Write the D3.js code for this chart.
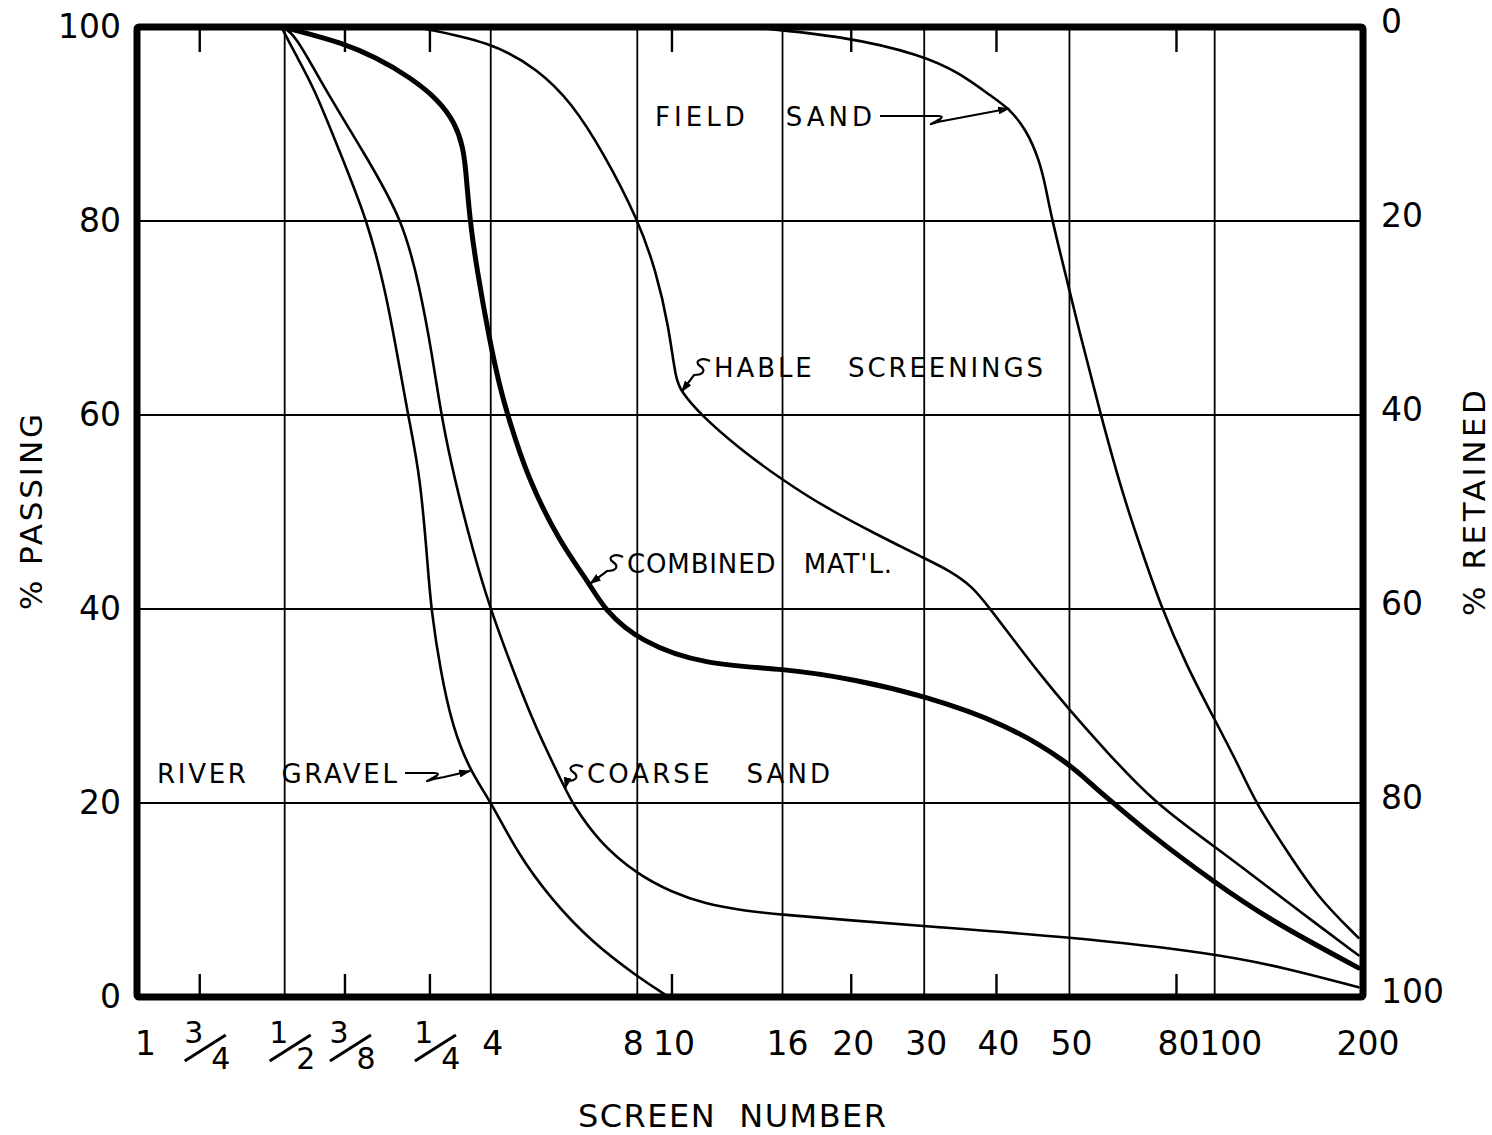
<!DOCTYPE html>
<html lang="en">
<head>
    <meta charset="utf-8">
    <title>Screen Analysis: % Passing</title>
    <script src="https://d3js.org/d3.v7.min.js"></script>
    <style>
    body {
        margin: 0;
        background: #fff;
    }
    svg {
        display: block;
        font-family: "DejaVu Sans", sans-serif;
    }
    .note {
        font-size: 26px;
        white-space: pre;
    }
    </style>
</head>
<body>
<script>

// screen openings in mm, with the label printed under each
var screenSizes = [25.4, 19.05, 12.7, 9.525, 6.35, 4.75, 2.36, 2.0, 1.18, 0.85, 0.6, 0.425, 0.3, 0.18, 0.15, 0.075];
var screenLabels = ["1", "3/4", "1/2", "3/8", "1/4", "4", "8", "10", "16", "20", "30", "40", "50", "80", "100", "200"];
var gridScreens = [12.7, 4.75, 2.36, 1.18, 0.6, 0.3, 0.15];
var tickScreens = [19.05, 9.525, 6.35, 2.0, 0.85, 0.425, 0.18];
var pctTicks = [0, 20, 40, 60, 80, 100];

// [opening mm, % passing]
var riverGravel = [[12.9,100],[12.1,97.3],[11.05,93.8],[9.74,87.0],[8.57,80.1],[7.88,73.2],[7.43,66.4],[7.04,59.8],[6.64,53.6],[6.40,43.7],[6.31,40.0],[6.05,33.8],[5.70,27.8],[5.24,23.3],[4.73,20.0],[4.18,14.8],[3.55,10.0],[2.94,5.7],[2.36,2.1],[2.03,0]];
var coarseSand = [[12.9,100],[12.12,99.4],[10.54,93.8],[8.69,87.0],[7.22,80.1],[6.67,73.2],[6.29,66.4],[6.01,59.8],[5.66,53.6],[5.16,45.8],[4.76,40.0],[4.28,33.8],[3.84,27.8],[3.33,21.5],[3.22,20.0],[2.84,16.0],[2.355,12.6],[2.0,10.8],[1.71,9.6],[1.42,8.9],[1.19,8.5],[0.85,7.9],[0.6,7.3],[0.3,6.2],[0.15,4.5],[0.107,3.0],[0.0755,1.0]];
var combinedMatl = [[12.8,100],[11.72,99.5],[9.71,98.4],[8.23,96.9],[6.97,94.8],[6.10,92.5],[5.63,90.1],[5.42,87.6],[5.35,85.3],[5.25,80.1],[5.07,74.9],[4.79,68.0],[4.55,62.9],[4.37,59.8],[3.99,53.6],[3.42,46.9],[2.96,42.6],[2.77,40.0],[2.33,36.6],[1.70,34.2],[1.18,33.9],[0.827,32.7],[0.606,31.1],[0.407,28.2],[0.3,24.1],[0.266,21.6],[0.243,20.0],[0.201,16.5],[0.15,11.8],[0.115,7.9],[0.0755,3.0]];
var hableScreenings = [[6.8,100],[4.75,98.5],[3.78,95.6],[3.23,92.2],[2.77,87.0],[2.35,80.1],[2.16,74.9],[2.03,69.1],[1.965,63.6],[1.91,62.4],[1.76,60.2],[1.44,56.4],[1.18,53.3],[0.965,50.5],[0.761,47.8],[0.604,45.3],[0.533,44.0],[0.476,42.3],[0.441,40.2],[0.387,36.5],[0.347,33.4],[0.3,29.6],[0.2535,25.5],[0.201,20.1],[0.15,15.5],[0.124,12.4],[0.0992,8.7],[0.0755,4.3]];
var fieldSand = [[1.38,100],[0.867,99.0],[0.606,97.1],[0.508,95.3],[0.434,92.8],[0.400,91.6],[0.3685,89.4],[0.3465,86.3],[0.336,83.5],[0.327,80.4],[0.3046,74.2],[0.2877,69.1],[0.2594,60.3],[0.2317,51.5],[0.2127,46.1],[0.1944,40.4],[0.171,34.0],[0.15,28.6],[0.1333,23.7],[0.1236,20.1],[0.1068,15.2],[0.0919,10.3],[0.0755,6.1]];

var seriesNames = ["FIELD   SAND", "HABLE   SCREENINGS", "COMBINED   MAT'L.", "RIVER   GRAVEL", "COARSE   SAND"];

var width = 1492,
    height = 1135;
var plotLeft = 137, plotRight = 1363, plotTop = 27, plotBottom = 997;

var x = d3.scaleLog().domain([25.7, 0.0739]).range([plotLeft, plotRight]);
var y = d3.scaleLinear().domain([0, 100]).range([plotBottom, plotTop]);
var yRet = d3.scaleLinear().domain([100, 0]).range([plotBottom, plotTop]);

var svg = d3.select("body").append("svg")
    .attr("width", width)
    .attr("height", height);

svg.append("rect").attr("width", width).attr("height", height).attr("fill", "#fff");

var defs = svg.append("defs");
defs.append("marker")
    .attr("id", "arrow")
    .attr("viewBox", "0 0 12 8")
    .attr("refX", 11).attr("refY", 4)
    .attr("markerWidth", 12).attr("markerHeight", 8)
    .attr("markerUnits", "userSpaceOnUse")
    .attr("orient", "auto")
  .append("path")
    .attr("d", "M0,0 L12,4 L0,8 Z")
    .attr("fill", "#000");

// grid
svg.selectAll(".hgrid").data([20, 40, 60, 80]).enter().append("line")
    .attr("x1", plotLeft).attr("x2", plotRight)
    .attr("y1", function(d) { return y(d); })
    .attr("y2", function(d) { return y(d); })
    .attr("stroke", "#000").attr("stroke-width", 1.8);

svg.selectAll(".vgrid").data(gridScreens).enter().append("line")
    .attr("x1", function(d) { return x(d); })
    .attr("x2", function(d) { return x(d); })
    .attr("y1", plotTop).attr("y2", plotBottom)
    .attr("stroke", "#000").attr("stroke-width", 1.8);

// short ticks top and bottom
tickScreens.forEach(function(d) {
    svg.append("line").attr("x1", x(d)).attr("x2", x(d)).attr("y1", plotTop).attr("y2", plotTop + 25)
        .attr("stroke", "#000").attr("stroke-width", 2.4);
    svg.append("line").attr("x1", x(d)).attr("x2", x(d)).attr("y1", plotBottom).attr("y2", plotBottom - 23)
        .attr("stroke", "#000").attr("stroke-width", 2.4);
});

// curves
var series = [
    { values: fieldSand, w: 2.6 },
    { values: hableScreenings, w: 2.6 },
    { values: combinedMatl, w: 5 },
    { values: riverGravel, w: 2.6 },
    { values: coarseSand, w: 2.6 }
];

var line = d3.line()
    .x(function(d) { return x(d[0]); })
    .y(function(d) { return y(d[1]); })
    .curve(d3.curveBasis);

svg.selectAll(".curve").data(series).enter().append("path")
    .attr("class", "curve")
    .attr("d", function(d) { return line(d.values); })
    .attr("fill", "none")
    .attr("stroke", "#000")
    .attr("stroke-width", function(d) { return d.w; })
    .attr("stroke-linejoin", "round")
    .attr("stroke-linecap", "round");

// frame
svg.append("rect")
    .attr("x", plotLeft).attr("y", plotTop)
    .attr("width", plotRight - plotLeft).attr("height", plotBottom - plotTop)
    .attr("fill", "none").attr("stroke", "#000").attr("stroke-width", 7)
    .attr("rx", 2);

// left axis (% passing)
var leftAxis = svg.append("g")
    .attr("transform", "translate(121,0)")
    .call(d3.axisLeft(y).tickValues(pctTicks).tickSize(0).tickPadding(0));
leftAxis.select(".domain").remove();
leftAxis.selectAll("text")
    .attr("font-family", "DejaVu Sans")
    .attr("font-size", 33)
    .attr("fill", "#000");

// right axis (% retained)
var rightAxis = svg.append("g")
    .attr("transform", "translate(1381,-5)")
    .call(d3.axisRight(yRet).tickValues(pctTicks).tickSize(0).tickPadding(0));
rightAxis.select(".domain").remove();
rightAxis.selectAll("text")
    .attr("font-family", "DejaVu Sans")
    .attr("font-size", 33)
    .attr("fill", "#000");

// bottom labels, fractions stacked
var labelNudge = { "8": -6, "100": 14, "200": 6, "1": 4, "16": 3 };
var xLabels = svg.append("g").attr("font-size", 33).attr("fill", "#000");
screenSizes.forEach(function(d, i) {
    var lab = screenLabels[i];
    if (lab.indexOf("/") > -1) {
        var parts = lab.split("/");
        var cx = x(d) + 7;
        xLabels.append("text").attr("x", cx - 13).attr("y", 1032)
            .attr("text-anchor", "middle").attr("dominant-baseline", "central")
            .attr("font-size", 30).text(parts[0]);
        xLabels.append("text").attr("x", cx + 14).attr("y", 1058)
            .attr("text-anchor", "middle").attr("dominant-baseline", "central")
            .attr("font-size", 30).text(parts[1]);
        xLabels.append("line").attr("x1", cx - 22).attr("y1", 1061)
            .attr("x2", cx + 19).attr("y2", 1035)
            .attr("stroke", "#000").attr("stroke-width", 3);
    } else {
        xLabels.append("text")
            .attr("x", x(d) + 2 + (labelNudge[lab] || 0))
            .attr("y", 1043)
            .attr("text-anchor", "middle").attr("dominant-baseline", "central")
            .text(lab);
    }
});

// axis titles
svg.append("text")
    .attr("x", 732).attr("y", 1127)
    .attr("text-anchor", "middle")
    .attr("font-size", 32)
    .attr("textLength", 308)
    .attr("style", "white-space:pre")
    .text("SCREEN  NUMBER");

svg.append("text")
    .attr("transform", "translate(42,512) rotate(-90)")
    .attr("text-anchor", "middle")
    .attr("font-size", 31)
    .attr("textLength", 196)
    .attr("style", "white-space:pre")
    .text("% PASSING");

svg.append("text")
    .attr("transform", "translate(1485,503) rotate(-90)")
    .attr("text-anchor", "middle")
    .attr("font-size", 31)
    .attr("textLength", 226)
    .attr("style", "white-space:pre")
    .text("% RETAINED");

// curve labels with hand-drawn style leaders
var notes = [
    { text: seriesNames[0], x: 655, y: 126, len: 217, side: "right", target: fieldSand[5] },
    { text: seriesNames[1], x: 714, y: 377, len: 329, side: "left", target: hableScreenings[9] },
    { text: seriesNames[2], x: 627, y: 573, len: 265, side: "left", target: combinedMatl[16] },
    { text: seriesNames[3], x: 157, y: 783, len: 240, side: "right", target: riverGravel[13] },
    { text: seriesNames[4], x: 587, y: 783, len: 243, side: "left", target: coarseSand[13] }
];

notes.forEach(function(n) {
    svg.append("text")
        .attr("class", "note")
        .attr("x", n.x).attr("y", n.y)
        .attr("textLength", n.len)
        .attr("lengthAdjust", "spacing")
        .text(n.text);

    var tx = x(n.target[0]), ty = y(n.target[1]);
    var p;
    if (n.side === "right") {
        var sx = n.x + n.len + 8, my = n.y - 10;
        var hx = sx + (tx - sx) * 0.45;
        p = "M" + sx + "," + my + " L" + hx + "," + my +
            " C" + (hx + 12) + "," + my + " " + (hx - 10) + "," + (my + 9) + " " + (hx - 7) + "," + (my + 8) +
            " C" + (hx - 4) + "," + (my + 7) + " " + (hx + 4) + "," + (my + 5) + " " + (hx + 10) + "," + (my + 4) +
            " L" + tx + "," + ty;
    } else {
        var ax = n.x - 4, ay = n.y - 16;
        p = "M" + ax + "," + ay +
            " C" + (ax - 8) + "," + (ay - 4) + " " + (ax - 17) + "," + ay + " " + (ax - 10) + "," + (ay + 5) +
            " C" + (ax - 4) + "," + (ay + 9) + " " + (ax - 6) + "," + (ay + 14) + " " + (ax - 16) + "," + (ay + 14) +
            " L" + tx + "," + ty;
    }
    svg.append("path")
        .attr("d", p)
        .attr("fill", "none")
        .attr("stroke", "#000")
        .attr("stroke-width", 2.2)
        .attr("marker-end", "url(#arrow)");
});

</script>
</body>
</html>
